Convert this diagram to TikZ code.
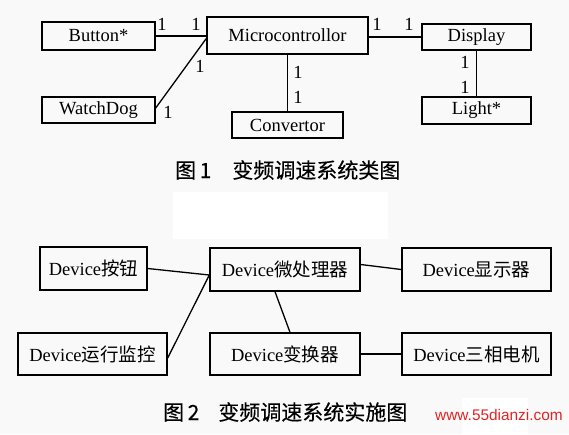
\documentclass[tikz,border=0pt]{standalone}
\usepackage{fontspec}
\setmainfont{Liberation Serif}
\newfontfamily\cjk{Noto Sans CJK SC}
\newfontfamily\capfont{Noto Sans CJK SC}[FakeBold=0.3]
\newfontfamily\wmfont{Liberation Sans}
\usetikzlibrary{calc}
\definecolor{bgc}{RGB}{249,249,249}
\definecolor{wmred}{RGB}{225,35,35}
\tikzset{
  box/.style={draw=black, line width=1.4pt, inner sep=0pt, font=\fontsize{18.5}{20}\selectfont},
  conn/.style={line width=1.3pt},
  mult/.style={inner sep=0pt, font=\fontsize{18.5}{20}\selectfont},
  figcaption/.style={inner sep=0pt, anchor=west, font=\capfont\fontsize{21}{23}\selectfont},
}
\begin{document}
\begin{tikzpicture}[x=1pt, y=-1pt]
\fill[bgc] (0,0) rectangle (569,434);
\useasboundingbox (0,0) rectangle (569,434);
\fill[white] (173,192) rectangle (388,239);
\fill[white] (462,398) rectangle (528,434);

% Figure 1
\node[box, minimum width=113pt, minimum height=28pt] (button) at (98.5,36) {Button*};
\node[box, minimum width=161pt, minimum height=37pt] (micro) at (287.5,35.5) {Microcontrollor};
\node[box, minimum width=113pt, minimum height=26pt] (watch) at (98.5,110) {WatchDog};
\node[box, minimum width=111pt, minimum height=26pt] (convert) at (287.5,125) {Convertor};
\node[box, minimum width=109pt, minimum height=26pt] (display) at (476.5,37) {Display};
\node[box, minimum width=109pt, minimum height=27pt] (light) at (476.5,110.5) {Light*};

\draw[conn] (button.east) -- (button.east -| micro.west);
\draw[conn] ($(watch.east)+(0,-2)$) -- ($(micro.west)+(0,3)$);
\draw[conn] (micro.south) -- (convert.north);
\draw[conn] (micro.east |- display.west) -- (display.west);
\draw[conn] (display.south) -- (light.north);

\node[mult] (m1) at (162,24) {1};
\node[mult] (m2) at (196,24) {1};
\node[mult] (m3) at (200,66) {1};
\node[mult] (m4) at (168,112) {1};
\node[mult] (m5) at (377,24) {1};
\node[mult] (m6) at (409,24) {1};
\node[mult] (m7) at (298,72) {1};
\node[mult] (m8) at (298,97) {1};
\node[mult] (m9) at (465,62) {1};
\node[mult] (m10) at (465,87) {1};

\node[figcaption] (cap1) at (175,170) {图\,1\hspace{21pt}变频调速系统类图};

% Figure 2
\node[box, minimum width=107pt, minimum height=43pt] (btn2) at (93.5,268.5) {Device{\cjk 按钮}};
\node[box, minimum width=150pt, minimum height=43pt] (cpu) at (285,269.5) {Device{\cjk 微处理器}};
\node[box, minimum width=149pt, minimum height=43pt] (disp2) at (476.5,269.5) {Device{\cjk 显示器}};
\node[box, minimum width=149pt, minimum height=42pt] (mon) at (92.5,354) {Device{\cjk 运行监控}};
\node[box, minimum width=150pt, minimum height=42pt] (conv2) at (285,354) {Device{\cjk 变换器}};
\node[box, minimum width=149pt, minimum height=42pt] (motor) at (476.5,354) {Device{\cjk 三相电机}};

\coordinate (cpuin) at ($(cpu.west)+(0,5.5)$);
\draw[conn] (btn2.east) -- (cpuin);
\draw[conn] ($(mon.east)+(0,4)$) -- (cpuin);
\draw[conn] ($(cpu.east)+(0,-5)$) -- (disp2.west);
\draw[conn] ($(cpu.south)+(-10,0)$) -- ($(conv2.north)+(5,0)$);
\draw[conn] (conv2.east) -- (motor.west);

\node[figcaption] (cap2) at (163,412) {图\,2\hspace{19pt}变频调速系统实施图};
\node[inner sep=0pt, anchor=west, text=wmred, font=\wmfont\fontsize{15.4}{17}\selectfont] (wm) at (435,415) {www.55dianzi.com};
\end{tikzpicture}
\end{document}
